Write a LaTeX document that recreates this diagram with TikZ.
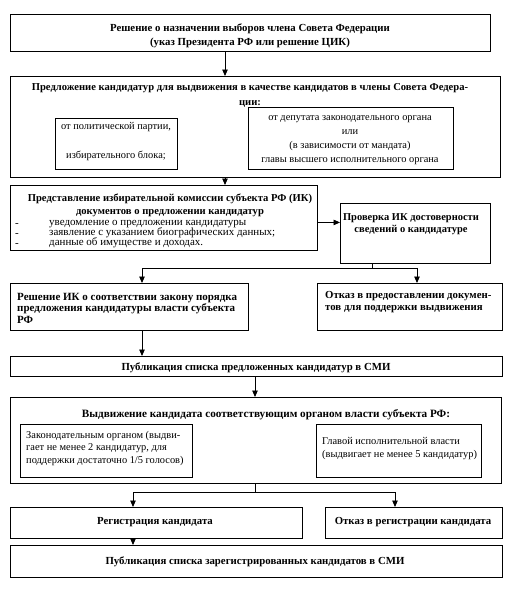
\documentclass[tikz,border=0pt]{standalone}
\usepackage{fontspec}
\setmainfont{Liberation Serif}
\usetikzlibrary{arrows.meta,calc}
\setlength{\lineskiplimit}{-8pt}
\begin{document}
\begin{tikzpicture}[x=1pt,y=-1pt,
  box/.style={draw, line width=0.9pt, inner sep=0pt, anchor=north west},
  arr/.style={line width=0.9pt, -{Triangle[length=6.5pt,width=5.5pt]}},
  ln/.style={line width=0.9pt},
  bt/.style={font=\bfseries\fontsize{10.8}{14}\selectfont, align=center, inner sep=0pt, yshift=-1.5pt},
  rt/.style={font=\fontsize{10.4}{14}\selectfont, align=center, inner sep=0pt, yshift=-1.5pt}]
\useasboundingbox (0,0) rectangle (508,600);
\fill[white] (0,0) rectangle (508,600);

% box 1
\node[box, minimum width=480pt, minimum height=37pt] (b1) at (10,14) {};
\node[bt] (t1) at (250,34) {Решение о назначении выборов члена Совета Федерации\\(указ Президента РФ или решение ЦИК)};

% box 2
\node[box, minimum width=490pt, minimum height=101pt] (b2) at (10,76) {};
\node[bt, font=\bfseries\fontsize{10.6}{14.5}\selectfont] (t2) at (250,94) {Предложение кандидатур для выдвижения в качестве кандидатов в члены Совета Федера-\\ции:};
\node[box, minimum width=122pt, minimum height=51pt] (b2l) at (55,118) {};
\node[rt] (t2l) at (116,140.5) {от политической партии,\\[15pt]избирательного блока;};
\node[box, minimum width=205pt, minimum height=62pt] (b2r) at (248,107) {};
\node[rt] (t2r) at (350,139) {от депутата законодательного органа\\или\\(в зависимости от мандата)\\главы высшего исполнительного органа};

% box 3
\node[box, minimum width=307pt, minimum height=65pt] (b3) at (10,185) {};
\node[bt, font=\bfseries\fontsize{10.6}{13}\selectfont] (t3) at (170,203.5) {Представление избирательной комиссии субъекта РФ (ИК)\\документов о предложении кандидатур};
\node[rt, align=left, anchor=west, font=\fontsize{11}{10}\selectfont] (t3d) at (15,233) {-\\-\\-};
\node[rt, align=left, anchor=west, font=\fontsize{11}{10}\selectfont] (t3b) at (49,233) {уведомление о предложении кандидатуры\\заявление с указанием биографических данных;\\данные об имуществе и доходах.};

% box 4
\node[box, minimum width=150pt, minimum height=60pt] (b4) at (340,203) {};
\node[bt, font=\bfseries\fontsize{10.5}{12}\selectfont] (t4) at (411,223) {Проверка ИК достоверности\\сведений о кандидатуре};

% box 5, 6
\node[box, minimum width=238pt, minimum height=47pt] (b5) at (10,283) {};
\node[bt, align=left, anchor=west, font=\bfseries\fontsize{11}{11.5}\selectfont] (t5) at (17,306.5) {Решение ИК о соответствии закону порядка\\предложения кандидатуры власти субъекта\\РФ};
\node[box, minimum width=185pt, minimum height=47pt] (b6) at (317,283) {};
\node[bt, align=left, anchor=west, font=\bfseries\fontsize{10.8}{12}\selectfont] (t6) at (325,301) {Отказ в предоставлении докумен-\\тов для поддержки выдвижения};

% box 7
\node[box, minimum width=492pt, minimum height=20pt] (b7) at (10,356) {};
\node[bt] (t7) at (256,366) {Публикация списка предложенных кандидатур в СМИ};

% box 8
\node[box, minimum width=491pt, minimum height=86pt] (b8) at (10,397) {};
\node[bt, font=\bfseries\fontsize{11.2}{14}\selectfont] (t8) at (266,413) {Выдвижение кандидата соответствующим органом власти субъекта РФ:};
\node[box, minimum width=172pt, minimum height=53pt] (b8l) at (20,424) {};
\node[rt, align=left, anchor=west, font=\fontsize{10.4}{12.5}\selectfont] (t8l) at (26,446.5) {Законодательным органом (выдви-\\гает не менее 2 кандидатур, для\\поддержки достаточно 1/5 голосов)};
\node[box, minimum width=165pt, minimum height=53pt] (b8r) at (316,424) {};
\node[rt, align=left, anchor=west, font=\fontsize{10.4}{12.5}\selectfont] (t8r) at (322,447) {Главой исполнительной власти\\(выдвигает не менее 5 кандидатур)};

% box 9, 10, 11
\node[box, minimum width=292pt, minimum height=31pt] (b9) at (10,507) {};
\node[bt] (t9) at (155,521) {Регистрация кандидата};
\node[box, minimum width=177pt, minimum height=31pt] (b10) at (325,507) {};
\node[bt] (t10) at (413,521) {Отказ в регистрации кандидата};
\node[box, minimum width=492pt, minimum height=32pt] (b11) at (10,545) {};
\node[bt] (t11) at (255,560) {Публикация списка зарегистрированных кандидатов в СМИ};

% connectors
\draw[arr] ([xshift=215pt]b1.south west) -- ([xshift=215pt]b2.north west);
\draw[arr] ([xshift=215pt]b2.south west) -- ([xshift=215pt]b3.north west);
\draw[arr] ([yshift=-4.5pt]b3.east) -- ([yshift=-4.5pt]b3.east -| b4.west);
\coordinate (j1) at (372,268);
\draw[ln] ([xshift=32pt]b4.south west) -- (j1);
\draw[arr] (j1) -| ([xshift=132pt]b5.north west);
\draw[arr] (j1) -| ([xshift=100pt]b6.north west);
\draw[arr] ([xshift=132pt]b5.south west) -- ([xshift=132pt]b7.north west);
\draw[arr] ([xshift=245pt]b7.south west) -- ([xshift=245pt]b8.north west);
\coordinate (j2) at (255,492);
\draw[ln] ([xshift=245pt]b8.south west) -- (j2);
\draw[arr] (j2) -| ([xshift=123pt]b9.north west);
\draw[arr] (j2) -| ([xshift=70pt]b10.north west);
\draw[arr] ([xshift=123pt]b9.south west) -- ([xshift=123pt]b11.north west);
\end{tikzpicture}
\end{document}
